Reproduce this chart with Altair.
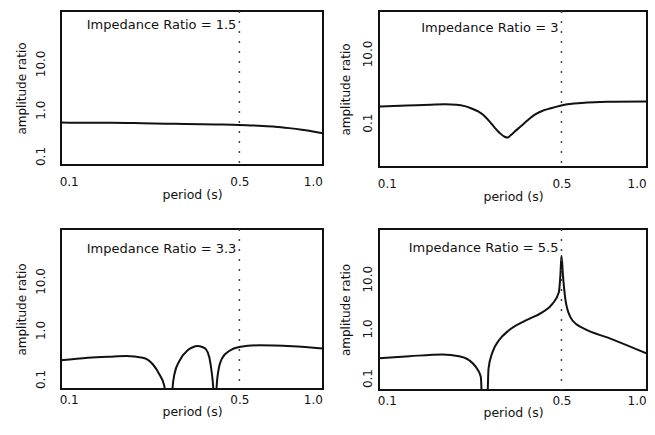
import altair as alt
import pandas as pd

# ---- data ----
ratios = ["1.5", "3", "3.3", "5.5"]

p1_period = [0.093, 0.12, 0.15, 0.2, 0.25, 0.3, 0.4, 0.5, 0.6, 0.7, 0.8, 0.9, 1.0, 1.1]
p1_amp = [0.53, 0.52, 0.52, 0.51, 0.50, 0.49, 0.48, 0.47, 0.45, 0.43, 0.40, 0.37, 0.34, 0.31]

p2_period = [0.093, 0.12, 0.15, 0.171, 0.19, 0.205, 0.217, 0.232, 0.247, 0.26, 0.27, 0.283,
             0.296, 0.305, 0.313, 0.325, 0.344, 0.365, 0.391, 0.42, 0.453, 0.515, 0.6,
             0.679, 0.8, 1.1]
p2_amp = [0.29, 0.31, 0.33, 0.34, 0.33, 0.30, 0.26, 0.21, 0.15, 0.10, 0.072, 0.05,
          0.039, 0.037, 0.043, 0.055, 0.078, 0.115, 0.17, 0.22, 0.26, 0.33, 0.37,
          0.39, 0.40, 0.41]

p3_period = [0.093, 0.12, 0.147, 0.172, 0.201, 0.221, 0.235, 0.2465, 0.252, 0.262, 0.266,
             0.271, 0.284, 0.307, 0.322, 0.337, 0.352, 0.365, 0.377, 0.386, 0.391, 0.395,
             0.400, 0.403, 0.410, 0.426, 0.454, 0.499, 0.602, 0.823, 1.1]
p3_amp = [0.24, 0.27, 0.285, 0.294, 0.272, 0.2, 0.125, 0.072, 0.01, 0.01, 0.062,
          0.125, 0.233, 0.386, 0.445, 0.471, 0.45, 0.404, 0.272, 0.125, 0.062, 0.01,
          0.01, 0.062, 0.146, 0.272, 0.372, 0.45, 0.487, 0.465, 0.42]

p4_period = [0.093, 0.123, 0.167, 0.1945, 0.2134, 0.227, 0.2377, 0.2427, 0.2505, 0.2553,
             0.265, 0.281, 0.308, 0.36, 0.42, 0.46, 0.488, 0.495, 0.5, 0.507, 0.518,
             0.543, 0.577, 0.615, 0.785, 1.1]
p4_amp = [0.25, 0.275, 0.298, 0.275, 0.229, 0.168, 0.106, 0.01, 0.01, 0.156,
          0.336, 0.575, 0.912, 1.445, 2.12, 3.12, 5.32, 11.5, 28.8, 11.5, 3.93,
          1.68, 1.19, 0.986, 0.622, 0.31]

x_ticks = [0.1, 0.5, 1.0]
y_ticks_main = [0.1, 1.0, 10.0]
y_ticks_p2 = [0.1, 10.0]
x_domain = [0.093, 1.1]
y_domains = [[0.064, 135], [0.0052, 169], [0.0625, 115], [0.0575, 100]]
marker_period = 0.5

FONT = "DejaVu Sans"
INK = "#111111"


def panel(period, amp, ratio, ydom, yticks, width, height,
          y_lp, y_tp, x_lp, x_tp, text_y):
    df = pd.DataFrame({"period": period, "amp": amp})
    xs = alt.Scale(type="log", domain=x_domain, nice=False)
    ys = alt.Scale(type="log", domain=ydom, nice=False)
    line = alt.Chart(df).mark_line(color=INK, strokeWidth=2, clip=True,
                                   interpolate="monotone").encode(
        x=alt.X("period:Q", scale=xs,
                axis=alt.Axis(values=x_ticks, format=".1f", ticks=False, tickSize=0,
                              domain=False, grid=False, labelPadding=x_lp,
                              titlePadding=x_tp, title="period (s)",
                              labelFontSize=12, titleFontSize=12.5,
                              labelFont=FONT, titleFont=FONT,
                              labelColor=INK, titleColor=INK,
                              titleFontWeight="normal")),
        y=alt.Y("amp:Q", scale=ys,
                axis=alt.Axis(values=yticks, format=".1f", ticks=False, tickSize=0,
                              domain=False, grid=False, labelAngle=270,
                              labelAlign="center", labelBaseline="bottom",
                              labelPadding=y_lp, titlePadding=y_tp,
                              title="amplitude ratio",
                              labelFontSize=12, titleFontSize=12,
                              labelFont=FONT, titleFont=FONT,
                              labelColor=INK, titleColor=INK,
                              titleFontWeight="normal")),
    )
    rule = alt.Chart().mark_rule(color="#444444", strokeWidth=1.5,
                                 strokeDash=[2, 8]).encode(
        x=alt.datum(marker_period, type="quantitative")
    )
    text = alt.Chart().mark_text(align="right", baseline="middle", dx=-3,
                                 font=FONT, fontSize=13, color=INK).encode(
        x=alt.datum(marker_period, type="quantitative"),
        y=alt.value(text_y),
        text=alt.value(f"Impedance Ratio = {ratio}"),
    )
    return alt.layer(line, rule, text).properties(width=width, height=height)


c1 = panel(p1_period, p1_amp, ratios[0], y_domains[0], y_ticks_main, 262, 154,
           14, 6, 11, 1, 14)
c2 = panel(p2_period, p2_amp, ratios[1], y_domains[1], y_ticks_p2, 268, 156,
           5, 9, 11, 1, 17)
c3 = panel(p3_period, p3_amp, ratios[2], y_domains[2], y_ticks_main, 262, 160,
           14, 6, 5, 0, 20)
c4 = panel(p4_period, p4_amp, ratios[3], y_domains[3], y_ticks_main, 268, 161,
           5, 9, 5, 0, 19)

top = alt.hconcat(c1, c2, spacing=14)
bottom = alt.hconcat(c3, c4, spacing=14)

chart = alt.vconcat(top, bottom, spacing=23).properties(
    padding={"left": 14, "top": 9, "right": 0, "bottom": 0},
    background="white",
).configure_view(stroke=INK, strokeWidth=2)

chart.save("out.html", embed_options={"renderer": "svg", "actions": False})
